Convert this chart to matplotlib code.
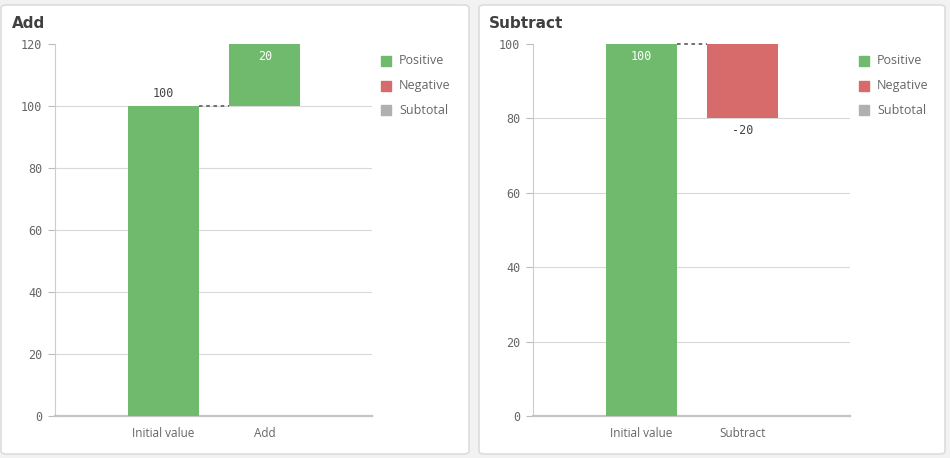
import matplotlib.pyplot as plt
from matplotlib.patches import FancyBboxPatch, Rectangle

# data
add_categories = ['Initial value', 'Add']
add_values = [100, 20]
sub_categories = ['Initial value', 'Subtract']
sub_values = [100, -20]
legend_labels = ['Positive', 'Negative', 'Subtotal']

POS = '#70ba6d'
NEG = '#d76a6a'
SUB = '#b0b0b0'
GRID = '#d9d9d9'
TXT = '#666666'


def waterfall(ax, cats, vals, ymax, ystep):
    starts = []
    running = 0
    for v in vals:
        starts.append(running if v >= 0 else running + v)
        running += v
    x = list(range(len(cats)))
    colors = [POS if v >= 0 else NEG for v in vals]
    ax.bar(x, [abs(v) for v in vals], bottom=starts, width=0.7,
           color=colors, zorder=3)

    # connector between bars
    running = 0
    for i, v in enumerate(vals[:-1]):
        running += v
        ax.plot([i + 0.35, i + 0.65], [running, running], ls=(0, (2, 2)),
                color='#666666', lw=1.3, zorder=4, clip_on=False)

    # value labels (offsets in points)
    running = 0
    for i, v in enumerate(vals):
        top = running + v if v >= 0 else running
        bottom = running if v >= 0 else running + v
        kw = dict(ha='center', va='center', fontsize=8.5,
                  family='DejaVu Sans Mono', zorder=5, textcoords='offset points')
        if v >= 0:
            if top >= ymax - 1:
                ax.annotate(f'{v}', (i, top), xytext=(0, -9), color='white', **kw)
            else:
                ax.annotate(f'{v}', (i, top), xytext=(0, 9), color='#444444', **kw)
        else:
            ax.annotate(f'{v}', (i, bottom), xytext=(0, -9), color='#444444', **kw)
        running += v

    ax.set_ylim(0, ymax)
    ax.set_xlim(-1.065, 2.055)
    ax.set_yticks(range(0, ymax + 1, ystep))
    ax.set_xticks(x)
    ax.set_xticklabels(cats, fontsize=8.5, color=TXT, family='Open Sans')
    for lab in ax.get_yticklabels():
        lab.set_family('DejaVu Sans Mono')
    ax.tick_params(axis='y', labelsize=8.5, labelcolor=TXT, color='#bbbbbb',
                   length=5, width=0.8, pad=4)
    ax.tick_params(axis='x', length=0, pad=8)
    ax.grid(axis='y', color=GRID, lw=0.8, zorder=0)
    ax.get_ygridlines()[-1].set_visible(False)
    ax.set_axisbelow(True)
    for s in ['top', 'right']:
        ax.spines[s].set_visible(False)
    ax.spines['left'].set_color('#cccccc')
    ax.spines['left'].set_linewidth(0.8)
    ax.spines['bottom'].set_color('#c4c4c4')
    ax.spines['bottom'].set_linewidth(1.6)
    ax.set_facecolor('none')


def legend(fig, x0):
    ys = [61, 86, 110]
    for lab, col, y in zip(legend_labels, [POS, NEG, SUB], ys):
        fig.patches.append(Rectangle(((x0) / 950, 1 - (y + 5) / 458), 10 / 950, 10 / 458,
                                     transform=fig.transFigure, color=col))
        fig.text((x0 + 18) / 950, 1 - y / 458, lab, fontsize=9, color=TXT,
                 va='center', family='Open Sans')


fig = plt.figure(figsize=(9.5, 4.58), dpi=100)
fig.patch.set_facecolor('#f2f2f2')

for px0, px1 in [(1, 469), (479, 945)]:
    fig.patches.append(FancyBboxPatch((px0 / 950, 4 / 458), (px1 - px0) / 950, 449 / 458,
                                      boxstyle='round,pad=0,rounding_size=0.006',
                                      transform=fig.transFigure, facecolor='white',
                                      edgecolor='#d8d8d8', lw=1, zorder=-1))

ax1 = fig.add_axes([55 / 950, 1 - 416 / 458, 317 / 950, 372 / 458])
waterfall(ax1, add_categories, add_values, 120, 20)
ax2 = fig.add_axes([533 / 950, 1 - 416 / 458, 317 / 950, 372 / 458])
waterfall(ax2, sub_categories, sub_values, 100, 20)

fig.text(12 / 950, 1 - 23 / 458, 'Add', fontsize=11, fontweight='bold', color='#404040', va='center')
fig.text(489 / 950, 1 - 23 / 458, 'Subtract', fontsize=11, fontweight='bold', color='#404040', va='center')

legend(fig, 381)
legend(fig, 859)

fig.savefig('out.png', dpi=100, facecolor=fig.get_facecolor())
